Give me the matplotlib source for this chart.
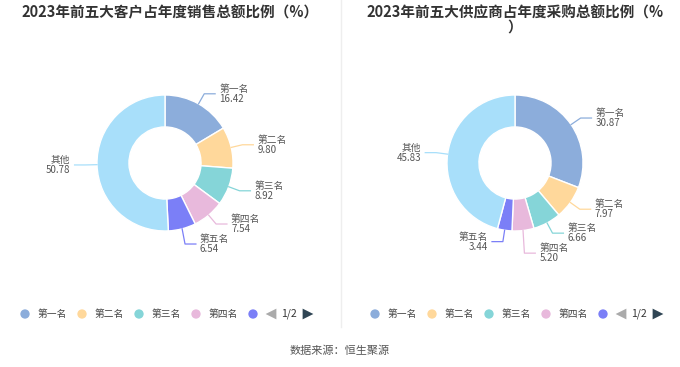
import numpy as np
import matplotlib
matplotlib.use("Agg")
import matplotlib.pyplot as plt

plt.rcParams["font.family"] = ["Noto Sans CJK SC", "DejaVu Sans"]

# data
categories = ["第一名", "第二名", "第三名", "第四名", "第五名", "其他"]
sales_share = [16.42, 9.80, 8.92, 7.54, 6.54, 50.78]
purchase_share = [30.87, 7.97, 6.66, 5.20, 3.44, 45.83]
title_sales = "2023年前五大客户占年度销售总额比例（%）"
title_purchase = ["2023年前五大供应商占年度采购总额比例（%", "）"]
source_text = "数据来源：恒生聚源"

colors = ["#8caddb", "#ffd89b", "#85d5d8", "#e8b9dc", "#7b7ff7", "#a8dffa"]

W, H = 680, 367
fig = plt.figure(figsize=(W / 100, H / 100), dpi=100)

R_PX = 68
HALF = 120
GAP = 20 / R_PX  # min vertical spacing of labels on one side


def draw_donut(cx, cy, values):
    ax = fig.add_axes([(cx - HALF) / W, (H - cy - HALF) / H,
                       2 * HALF / W, 2 * HALF / H])
    ax.pie(values, colors=colors, startangle=90, counterclock=False,
           radius=1,
           wedgeprops=dict(width=0.47, edgecolor="white", linewidth=1))
    lim = HALF / R_PX
    ax.set_xlim(-lim, lim)
    ax.set_ylim(-lim, lim)
    ax.axis("off")

    total = sum(values)
    cum = 0
    labels = []
    for name, v, c in zip(categories, values, colors):
        mid = 90 - (cum + v / 2) / total * 360
        cum += v
        a = np.deg2rad(mid)
        ca, sa = np.cos(a), np.sin(a)
        side = 1 if ca >= 0 else -1
        labels.append([name, v, c, ca, sa, side, 1.17 * ca, 1.17 * sa])

    # push overlapping labels downward, per side
    for side in (1, -1):
        group = sorted([l for l in labels if l[5] == side],
                       key=lambda l: -l[7])
        for prev, cur in zip(group, group[1:]):
            if prev[7] - cur[7] < GAP:
                cur[7] = prev[7] - GAP

    for name, v, c, ca, sa, side, x1, y1 in labels:
        x2 = x1 + side * 0.16
        ax.plot([ca, x1, x2], [sa, y1, y1], color=c, lw=0.9,
                clip_on=False)
        ax.text(x2 + side * 0.06, y1, f"{name}\n{v:.2f}",
                ha="left" if side > 0 else "right", va="center",
                fontsize=7, color="#555555", linespacing=1.0,
                clip_on=False)


draw_donut(165, 163, sales_share)
draw_donut(515, 163, purchase_share)

# overlay in pixel coords
ov = fig.add_axes([0, 0, 1, 1])
ov.set_xlim(0, W)
ov.set_ylim(H, 0)
ov.axis("off")
ov.patch.set_alpha(0)

ov.plot([341, 341], [0, 327], color="#eeeeee", lw=1)

ov.text(170, 12, title_sales, ha="center", va="center", fontsize=10.5,
        fontweight="bold", color="#333333")
ov.text(515, 12, title_purchase[0], ha="center", va="center",
        fontsize=10.5, fontweight="bold", color="#333333")
ov.text(515, 27, title_purchase[1], ha="center", va="center",
        fontsize=10.5, fontweight="bold", color="#333333")

# legends with pager
for x0 in (25, 375):
    for i in range(5):
        x = x0 + i * 57
        ov.scatter([x], [314], s=45, color=colors[i], edgecolors="none")
        if i < 4:
            ov.text(x + 13, 314, categories[i], ha="left", va="center",
                    fontsize=7, color="#444444")
    ov.scatter([x0 + 246], [314], marker="<", s=60, color="#aaaaaa",
               edgecolors="none")
    ov.text(x0 + 264, 314, "1/2", ha="center", va="center", fontsize=7.5,
            color="#333333")
    ov.scatter([x0 + 283], [314], marker=">", s=60, color="#2f4554",
               edgecolors="none")

ov.text(340, 351, source_text, ha="center", va="center", fontsize=8,
        color="#555555")

fig.savefig("out.png", dpi=100)
